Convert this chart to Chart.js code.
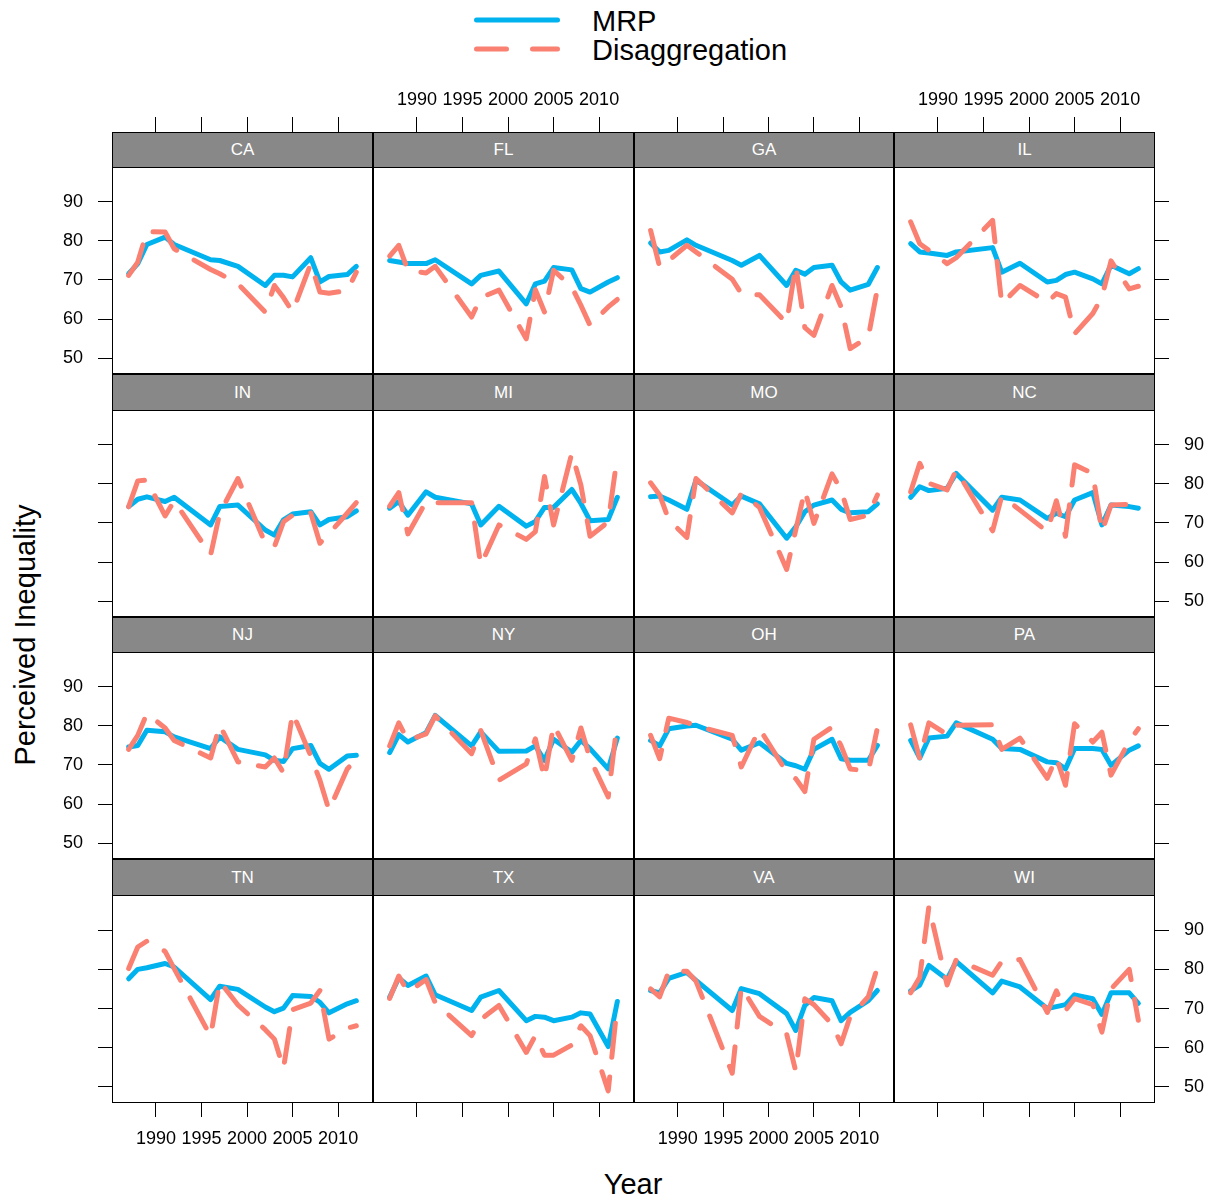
<!DOCTYPE html>
<html>
<head>
<meta charset="utf-8">
<script src="https://cdn.jsdelivr.net/npm/chart.js@4.4.1/dist/chart.umd.min.js"></script>
<style>
  html, body { margin: 0; padding: 0; background: #fff; }
  #root { position: relative; width: 1210px; height: 1201px; overflow: hidden;
          font-family: "Liberation Sans", Arial, Helvetica, sans-serif; color: #000; }
  #root canvas { position: absolute; }
  .strip { position: absolute; box-sizing: border-box; background: #888; border: 1px solid #000;
           color: #fff; font-size: 17px; z-index: 3; display: flex; align-items: center; justify-content: center; }
  .lab { position: absolute; white-space: nowrap; }
</style>
</head>
<body>
<div id="root">
  <svg style="position:absolute;left:0;top:0" width="1210" height="70">
    <line x1="476.5" y1="20" x2="557.5" y2="20" stroke="#00B2EE" stroke-width="5" stroke-linecap="round"/>
    <line x1="476.5" y1="49" x2="557.5" y2="49" stroke="#FA8072" stroke-width="5" stroke-linecap="round" stroke-dasharray="30 26"/>
  </svg>
  <div class="lab" style="left:592px;top:4px;font-size:29px;line-height:34px;">MRP</div>
  <div class="lab" style="left:592px;top:33px;font-size:29px;line-height:34px;">Disaggregation</div>
  <div class="lab" style="left:633px;top:1184px;font-size:29px;line-height:34px;transform:translate(-50%,-50%);">Year</div>
  <div class="lab" style="left:25px;top:635px;font-size:29px;line-height:34px;transform:translate(-50%,-50%) rotate(-90deg);">Perceived Inequality</div>
</div>
<script>
// ---------------- data ----------------
const years = [1987,1988,1989,1991,1992,1996,1997,1999,2002,2003,2004,2005,2007,2008,2009,2011,2012];
const states = ['CA','FL','GA','IL','IN','MI','MO','NC','NJ','NY','OH','PA','TN','TX','VA','WI'];
const xTickVals = [1990,1995,2000,2005,2010];
const yTickVals = [50,60,70,80,90];
const seriesNames = ['MRP','Disaggregation'];

const mrpCA = [71.6,74.2,79.1,81.0,79.1,75.2,75.0,73.5,68.6,71.2,71.2,70.8,75.7,69.5,70.9,71.4,73.5];
const disCA = [71.2,74.6,82.4,82.3,78.0,72.7,71.6,69.0,61.8,68.6,65.5,61.8,74.2,66.9,66.6,67.3,72.0];
const mrpFL = [75.0,74.6,74.2,74.2,75.2,69.0,71.2,72.3,63.9,69.0,69.7,73.2,72.6,67.8,66.9,69.5,70.6];
const disFL = [76.1,78.9,72.5,71.8,73.5,60.5,65.5,67.4,54.9,67.5,61.8,72.5,68.2,63.5,58.4,63.1,65.0];
const mrpGA = [79.5,77.2,77.6,80.3,78.9,75.0,73.8,76.3,68.6,72.5,71.5,73.2,73.8,69.5,67.4,68.9,73.2];
const disGA = [82.7,73.3,75.0,78.9,77.2,70.2,66.5,66.2,59.0,73.8,57.8,55.8,68.6,63.1,52.4,55.4,67.8];
const mrpIL = [79.3,77.2,76.9,76.3,77.2,78.3,72.0,74.3,69.5,69.9,71.4,72.0,70.3,69.0,73.8,71.6,72.9];
const disIL = [84.9,79.3,77.6,74.2,75.7,85.3,63.9,68.6,64.3,66.5,65.6,56.2,61.4,65.6,74.9,67.7,68.4];
const mrpIN = [74.2,76.1,76.7,75.5,76.6,69.5,74.2,74.6,68.2,66.9,70.8,72.3,72.9,69.5,70.9,71.6,73.1];
const disIN = [74.2,80.8,81.0,71.8,75.7,61.8,72.5,81.4,64.8,63.9,70.3,72.0,72.6,64.8,67.3,72.5,75.2];
const mrpMI = [73.8,75.5,72.0,78.0,76.6,74.9,69.5,74.3,69.2,70.4,74.0,74.0,78.6,75.0,70.6,70.9,76.6];
const disMI = [74.3,77.8,67.2,75.5,75.2,75.2,59.2,69.5,65.8,67.8,81.9,69.5,87.9,79.7,66.6,70.3,87.2];
const mrpMO = [76.7,76.9,75.9,73.5,81.0,74.6,76.9,74.9,66.1,69.0,72.9,74.6,75.9,73.5,72.6,72.9,74.9];
const disMO = [80.3,77.2,70.8,66.3,81.4,72.6,77.6,74.0,58.1,68.2,78.4,69.9,82.6,78.4,70.9,72.0,77.2];
const mrpNC = [76.6,79.3,78.3,78.9,82.7,73.3,76.6,75.9,71.2,72.5,71.6,75.9,77.8,69.5,74.6,74.2,73.8];
const disNC = [78.0,85.3,80.2,78.5,83.6,68.0,76.9,73.3,67.8,75.7,66.6,84.9,82.7,67.8,74.6,74.8,74.8];
const mrpNJ = [74.6,75.0,78.9,78.5,77.2,74.2,77.2,74.0,72.6,71.2,70.9,74.2,75.0,70.4,68.9,72.3,72.5];
const disNJ = [74.0,77.6,83.2,79.5,76.3,71.8,80.3,70.8,69.5,71.8,68.0,83.4,72.3,66.1,58.4,69.0,71.4];
const mrpNY = [73.2,77.8,75.9,78.3,82.7,74.9,78.5,73.5,73.6,74.9,71.2,76.6,73.3,76.3,74.2,69.0,76.9];
const disNY = [74.9,80.8,76.3,78.0,82.6,72.9,78.9,66.1,70.3,76.7,66.5,80.3,71.2,79.5,71.6,61.8,81.2];
const mrpOH = [76.3,74.9,79.3,80.0,80.2,76.6,73.8,75.7,70.4,69.8,68.9,74.0,76.6,71.6,71.2,71.2,75.0];
const disOH = [77.6,71.6,82.0,80.9,80.0,77.6,69.5,79.3,68.2,66.5,63.2,76.6,79.7,74.9,69.0,68.4,79.5];
const mrpPA = [76.3,71.8,76.9,77.4,80.8,76.6,74.2,74.0,70.8,70.6,69.0,74.2,74.2,74.0,69.9,73.8,74.9];
const disPA = [80.3,71.6,80.8,77.8,80.2,80.3,74.0,76.9,66.6,72.0,64.8,80.6,75.9,78.4,67.4,76.1,79.3];
const mrpTN = [77.6,80.0,80.4,81.5,80.6,72.3,75.7,74.9,70.4,69.2,70.1,73.3,73.1,71.6,68.9,71.2,72.0];
const disTN = [80.2,85.7,87.2,84.6,80.2,62.9,76.9,70.9,64.6,62.2,54.7,69.7,71.4,74.6,62.2,65.0,65.6];
const mrpTX = [72.9,77.8,75.9,78.3,73.5,69.5,72.9,74.6,66.9,68.0,67.8,66.9,67.8,68.9,68.6,60.3,71.8];
const disTX = [72.6,78.3,74.2,77.4,71.5,63.1,67.2,70.8,58.8,63.1,58.1,58.1,60.7,65.6,63.1,49.0,71.0];
const mrpVA = [74.6,74.0,77.7,79.2,77.2,69.5,75.1,73.8,68.7,64.4,70.8,72.8,72.0,66.9,69.0,72.0,74.6];
const disVA = [75.0,73.0,79.5,79.5,77.0,53.5,75.5,68.0,63.5,54.0,72.5,71.0,66.0,61.0,68.0,73.0,80.5];
const mrpWI = [74.5,76.0,81.0,77.5,82.0,74.0,77.0,75.5,70.0,70.5,71.0,73.5,72.5,68.5,74.0,74.0,71.3];
const disWI = [74.0,78.0,96.0,76.0,82.5,78.5,82.0,82.5,69.0,74.5,69.5,72.5,71.0,64.0,75.0,80.0,67.0];

const mrpByState = {CA:mrpCA,FL:mrpFL,GA:mrpGA,IL:mrpIL,IN:mrpIN,MI:mrpMI,MO:mrpMO,NC:mrpNC,
                    NJ:mrpNJ,NY:mrpNY,OH:mrpOH,PA:mrpPA,TN:mrpTN,TX:mrpTX,VA:mrpVA,WI:mrpWI};
const disByState = {CA:disCA,FL:disFL,GA:disGA,IL:disIL,IN:disIN,MI:disMI,MO:disMO,NC:disNC,
                    NJ:disNJ,NY:disNY,OH:disOH,PA:disPA,TN:disTN,TX:disTX,VA:disVA,WI:disWI};

// ---------------- layout ----------------
const XMIN = 1985.17, XMAX = 2013.83, YMIN = 45.9, YMAX = 98.97;
const colX = [112, 373, 634, 894];
const colW = [261, 261, 260, 261];
const stripY = [132, 374, 617, 859];
const rowY = [167, 410, 652, 895];
const rowH = [207, 207, 207, 208];
const BLUE = '#00B2EE', SALMON = '#FA8072';
const FONT = '"Liberation Sans", Arial, Helvetica, sans-serif';
const tickFont = {family: FONT, size: 18};

const framePlugin = {
  id: 'frame',
  afterDatasetsDraw(chart) {
    const a = chart.chartArea, ctx = chart.ctx;
    ctx.save();
    ctx.strokeStyle = '#000';
    ctx.lineWidth = 1;
    ctx.strokeRect(a.left + 0.5, a.top + 0.5, a.right - a.left - 1, a.bottom - a.top - 1);
    ctx.restore();
  }
};

function noPad(s) { s.paddingTop = 0; s.paddingBottom = 0; s.paddingLeft = 0; s.paddingRight = 0; }

const root = document.getElementById('root');

states.forEach((st, idx) => {
  const r = Math.floor(idx / 4), c = idx % 4;
  const hasTop = r === 0, hasBottom = r === 3, hasLeft = c === 0, hasRight = c === 3;
  const Lm = hasLeft ? 62 : 0, Rm = hasRight ? 56 : 0, Tm = hasTop ? 80 : 0, Bm = hasBottom ? 50 : 0;
  const W = colW[c], H = rowH[r];

  const cv = document.createElement('canvas');
  cv.width = W + Lm + Rm; cv.height = H + Tm + Bm;
  cv.style.width = cv.width + 'px'; cv.style.height = cv.height + 'px';
  cv.style.left = (colX[c] - Lm) + 'px';
  cv.style.top = (rowY[r] - Tm) + 'px';
  root.appendChild(cv);

  const strip = document.createElement('div');
  strip.className = 'strip';
  strip.style.left = colX[c] + 'px';
  strip.style.top = stripY[r] + 'px';
  strip.style.width = W + 'px';
  strip.style.height = (rowY[r] - stripY[r] + 1) + 'px';
  strip.textContent = st;
  root.appendChild(strip);

  const mk = arr => years.map((y, i) => ({x: y, y: arr[i]}));

  new Chart(cv, {
    type: 'line',
    data: {
      datasets: [
        {label: seriesNames[0], data: mk(mrpByState[st]), borderColor: BLUE, backgroundColor: BLUE,
         borderWidth: 5, pointRadius: 0, tension: 0, borderCapStyle: 'round', borderJoinStyle: 'round', order: 2},
        {label: seriesNames[1], data: mk(disByState[st]), borderColor: SALMON, backgroundColor: SALMON,
         borderWidth: 5, pointRadius: 0, tension: 0, borderCapStyle: 'round', borderJoinStyle: 'round',
         borderDash: [34, 20], order: 1}
      ]
    },
    options: {
      responsive: false, animation: false, devicePixelRatio: 1, events: [],
      layout: {padding: 0},
      plugins: {legend: {display: false}, tooltip: {enabled: false}},
      scales: {
        x: {
          type: 'linear', min: XMIN, max: XMAX,
          position: hasTop ? 'top' : 'bottom',
          display: hasTop || hasBottom,
          afterBuildTicks: s => { s.ticks = xTickVals.map(v => ({value: v})); },
          afterFit: s => { s.height = hasTop ? Tm : Bm; noPad(s); },
          grid: {display: true, drawOnChartArea: false, drawTicks: true, tickLength: hasTop ? 50 : 14, color: '#000', lineWidth: 1},
          border: {display: false},
          ticks: {display: hasTop ? (c % 2 === 1) : (c % 2 === 0), callback: v => String(v),
                  font: tickFont, color: '#000', padding: hasTop ? 6 : 11, maxRotation: 0, autoSkip: false}
        },
        y: {
          type: 'linear', min: YMIN, max: YMAX,
          position: hasRight ? 'right' : 'left',
          display: hasLeft || hasRight,
          afterBuildTicks: s => { s.ticks = yTickVals.map(v => ({value: v})); },
          afterFit: s => { s.width = hasLeft ? Lm : Rm; noPad(s); },
          grid: {display: true, drawOnChartArea: false, drawTicks: true, tickLength: 14, color: '#000', lineWidth: 1},
          border: {display: false},
          ticks: {display: hasLeft ? (r % 2 === 0) : (r % 2 === 1), callback: v => String(v),
                  font: tickFont, color: '#000', padding: 15, autoSkip: false}
        }
      }
    },
    plugins: [framePlugin]
  });
});
</script>
</body>
</html>
